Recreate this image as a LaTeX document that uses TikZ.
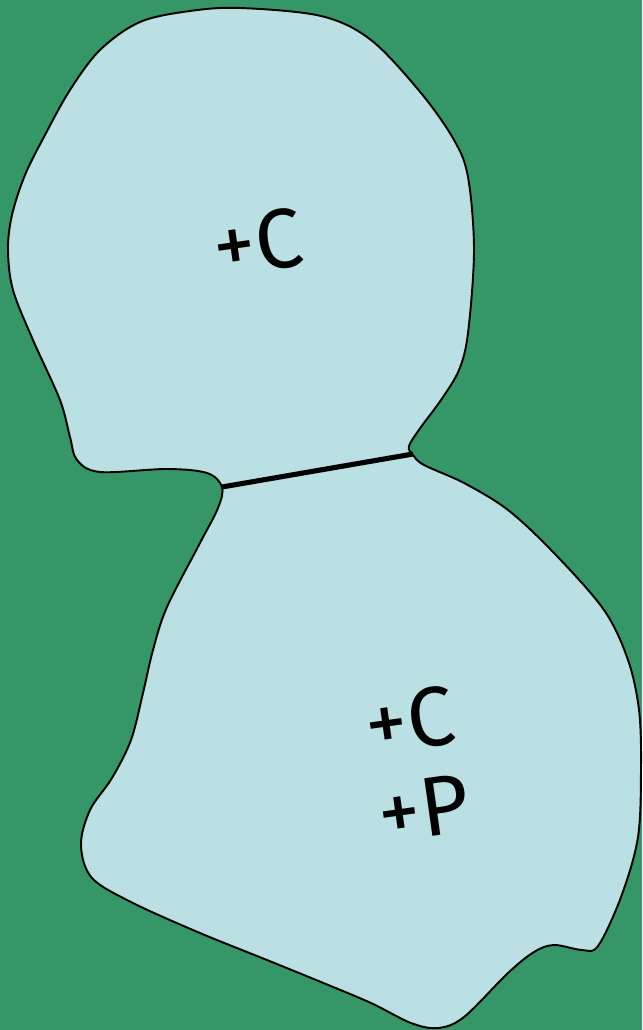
\documentclass[tikz,border=0pt]{standalone}
\usepackage{fontspec}
\newfontfamily\handfont{Fira Sans}
\definecolor{bggreen}{HTML}{359768}
\definecolor{blobblue}{HTML}{BBE0E3}
\tikzset{
  blob/.style={fill=blobblue, draw=black, line width=1.1pt, line join=round},
  divider/.style={draw=black, line width=2.9pt},
  lbl/.style={font=\handfont\fontsize{48}{54}\selectfont, text=black, rotate=8, inner sep=0pt}
}
\begin{document}
\begin{tikzpicture}[x=0.02cm, y=-0.02cm]
  \fill[bggreen] (0,0) rectangle (642,1030);
  \useasboundingbox (0,0) rectangle (642,1030);
  \draw[blob] plot[smooth cycle, tension=0.55] coordinates {
    (240,8) (321,16) (371,40) (421,93) (454,140) (468,177) (474,250)
    (468,333) (459,370) (441,400) (421,427) (409,446) (413,455)
    (424,465) (464,483) (508,510) (554,553) (604,610) (628,660)
    (639,710) (641,767) (638,837) (621,897) (598,946) (582,950)
    (554,945) (534,952) (508,973) (464,1017) (438,1028) (411,1023)
    (371,1003) (321,982) (267,960) (200,933) (133,903) (92,878)
    (81,845) (90,810) (112,778) (131,740) (143,693) (153,650)
    (167,607) (200,543) (218,508) (222,487) (207,473) (167,469)
    (100,472) (77,460) (70,437) (60,400) (33,340) (13,290) (8,250)
    (12,215) (25,175) (45,135) (70,90) (100,50) (140,22) (190,11)
  };
  \coordinate (leftpinch) at (222,487);
  \coordinate (rightpinch) at (413,454);
  \draw[divider] (leftpinch) -- (rightpinch);
  \node[lbl] (topc) at (258,242) {+C};
  \node[lbl] (midc) at (410,720) {+C};
  \node[lbl] (midp) at (424,808) {+P};
\end{tikzpicture}
\end{document}
